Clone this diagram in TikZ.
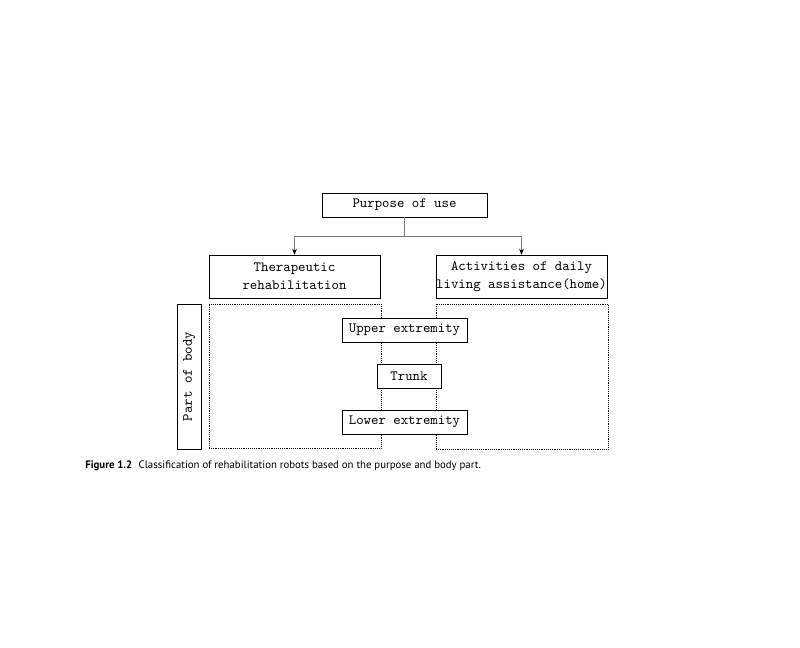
\documentclass[tikz,border=0pt]{standalone}
\usepackage{fontspec}
\newfontfamily\capfont{PT Sans}
\usetikzlibrary{arrows.meta}
\definecolor{lineGray}{RGB}{120,120,120}
\tikzset{
  box/.style={draw, thin, fill=white, align=center, inner sep=0pt, font=\fontsize{10.6}{13.5}\selectfont\ttfamily},
  zone/.style={draw, densely dotted, thin, inner sep=0pt},
  link/.style={draw=lineGray, thin},
  arrow/.style={draw=lineGray, thin, -{Stealth[black, length=4.5pt, width=3.5pt]}},
  caption/.style={anchor=west, inner sep=0pt, font=\fontsize{8.1}{10}\selectfont\capfont}
}
\begin{document}
\begin{tikzpicture}[x=0.75pt,y=-0.75pt]
  \useasboundingbox (0,0) rectangle (800,648);
  \node[box, minimum width=123.75pt, minimum height=18pt] (purpose) at (404.5,205) {Purpose of use};
  \node[box, minimum width=128.25pt, minimum height=32.25pt] (thera) at (294.5,276.5) {Therapeutic\\rehabilitation};
  \node[box, minimum width=128.25pt, minimum height=32.25pt] (adl) at (521.5,276.5) {Activities of daily\\living assistance(home)};
  \coordinate (split) at (404.5,236);

  \node[zone, minimum width=129pt, minimum height=108pt] (zoneL) at (295,376) {};
  \node[zone, minimum width=129pt, minimum height=108.75pt] (zoneR) at (522,376.5) {};
  \node[box, rotate=90, minimum width=108.75pt, minimum height=18pt] (body) at (189,376.5) {Part of body};

  \node[box, minimum width=93.75pt, minimum height=18pt] (upper) at (404.5,330) {Upper extremity};
  \node[box, minimum width=48pt, minimum height=18pt] (trunk) at (409,376) {Trunk};
  \node[box, minimum width=93.75pt, minimum height=18pt] (lower) at (404.5,422) {Lower extremity};

  \draw[link] (purpose) -- (split);
  \draw[arrow] (split) -| (thera.north);
  \draw[arrow] (split) -| (adl.north);

  \node[caption] (cap) at (85,466) {\textbf{Figure 1.2}\hspace{0.6em}Classification of rehabilitation robots based on the purpose and body part.};
\end{tikzpicture}
\end{document}
